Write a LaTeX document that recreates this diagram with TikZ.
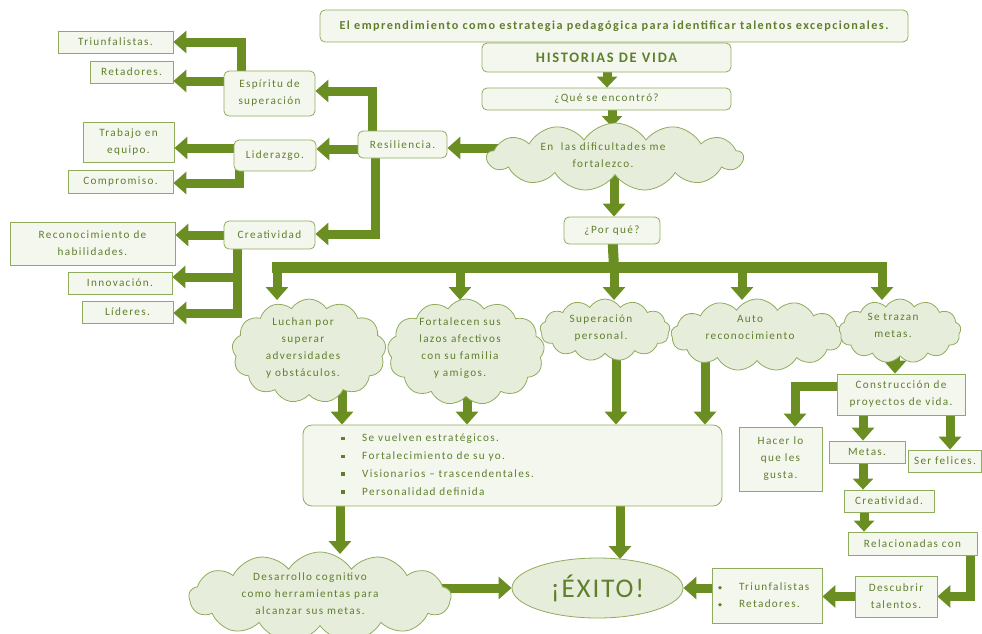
\documentclass[tikz,border=0pt]{standalone}
\usepackage{fontspec}
\setmainfont{Carlito}[LetterSpace=12]
\usetikzlibrary{arrows.meta,shapes.symbols,shapes.geometric,backgrounds,calc}
\definecolor{dg}{RGB}{107,142,35}
\definecolor{bd}{RGB}{143,172,92}
\definecolor{bf}{RGB}{244,247,238}
\definecolor{cf}{RGB}{231,237,219}
\definecolor{tx}{RGB}{95,127,45}
\newcommand{\sqb}{\makebox[21pt][l]{\raisebox{1.5pt}{\rule{3.6pt}{3.6pt}}}}
\newcommand{\rdb}{\makebox[21pt][l]{\raisebox{1.2pt}{\tikz\fill[tx] (0,0) circle (1.9pt);}}}
\begin{document}
\begin{tikzpicture}[x=1pt,y=-1pt,
  every node/.style={text=tx, font=\fontsize{11.2}{17}\selectfont},
  box/.style={draw=bd, fill=bf, line width=0.8pt, inner sep=1pt, align=center},
  rbox/.style={box, rounded corners=5pt},
  fat/.style={draw=dg, line width=9pt, line join=miter, -{Triangle[width=22pt,length=13pt]}},
  thinfat/.style={fat, -{Triangle[width=20pt,length=11pt]}},
  barline/.style={draw=dg, line width=10pt, line join=miter},
  cl/.style={cloud, cloud puffs=13, cloud puff arc=115, cloud ignores aspect, draw=bd, fill=cf, line width=0.8pt, inner sep=0pt},
  ctext/.style={align=center}]
\useasboundingbox (0,0) rectangle (982,633);

% top column
\node[rbox, minimum width=588pt, minimum height=32pt, font=\fontsize{12.2}{14}\bfseries] (title) at (614,26) {El emprendimiento como estrategia pedagógica para identificar talentos excepcionales.};
\node[rbox, minimum width=249pt, minimum height=29pt, font=\fontsize{14.5}{16}\bfseries] (hist) at (606.5,57.5) {HISTORIAS DE VIDA};
\node[rbox, minimum width=249pt, minimum height=22pt] (que) at (606.5,99) {¿Qué se encontró?};
\node[cl, minimum width=256pt, minimum height=68pt] (c0) at (615,157) {};
\node[ctext] (t0) at (603,155) {En\ \ las dificultades me\\fortalezco.};
\node[rbox, minimum width=96pt, minimum height=27pt] (pq) at (612,230.5) {¿Por qué?};

% left tree
\node[rbox, minimum width=89pt, minimum height=27pt] (res) at (402.5,144.5) {Resiliencia.};
\node[rbox, minimum width=91pt, minimum height=45pt] (esp) at (269.5,93.5) {Espíritu de\\superación};
\node[rbox, minimum width=82pt, minimum height=31pt] (lid) at (275,155.5) {Liderazgo.};
\node[rbox, minimum width=91pt, minimum height=28pt] (crea) at (269.5,235) {Creatividad};
\node[box, minimum width=115pt, minimum height=22pt] (tri) at (115.5,42) {Triunfalistas.};
\node[box, minimum width=83pt, minimum height=22pt] (ret) at (131.5,72) {Retadores.};
\node[box, minimum width=91pt, minimum height=40pt] (trab) at (128.5,142) {Trabajo en\\equipo.};
\node[box, minimum width=105pt, minimum height=23pt] (comp) at (120.5,181.5) {Compromiso.};
\node[box, minimum width=165pt, minimum height=43pt] (reco) at (92.5,243.5) {Reconocimiento de\\habilidades.};
\node[box, minimum width=104pt, minimum height=22pt] (inno) at (120,283) {Innovación.};
\node[box, minimum width=91pt, minimum height=22pt] (lide) at (127.5,312) {Líderes.};

% clouds row
\node[cl, minimum width=154pt, minimum height=104pt] (c1) at (309,351) {};
\node[ctext] (t1) at (303,348) {Luchan por\\superar\\adversidades\\y obstáculos.};
\node[cl, minimum width=157pt, minimum height=106pt] (c2) at (466,352) {};
\node[ctext] (t2) at (460,348) {Fortalecen sus\\lazos afectivos\\con su familia\\y amigos.};
\node[cl, minimum width=130pt, minimum height=62pt] (c3) at (605,330) {};
\node[ctext] (t3) at (601,328) {Superación\\personal.};
\node[cl, minimum width=172pt, minimum height=72pt] (c4) at (757,335) {};
\node[ctext] (t4) at (750,327) {Auto\\reconocimiento};
\node[cl, minimum width=122pt, minimum height=64pt] (c5) at (900,331) {};
\node[ctext] (t5) at (893,325) {Se trazan\\metas.};

% big box
\node[rbox, minimum width=419pt, minimum height=81pt, rounded corners=9pt] (big) at (512.5,465.5) {};
\node[anchor=north west, align=left, inner sep=0pt, font=\fontsize{11.2}{17.7}\selectfont] (blist) at (341,434) {\sqb Se vuelven estratégicos.\\\sqb Fortalecimiento de su yo.\\\sqb Visionarios -- trascendentales.\\\sqb Personalidad definida};

% right tree
\node[box, minimum width=128pt, minimum height=41pt] (cons) at (901,394.5) {Construcción de\\proyectos de vida.};
\node[box, minimum width=83pt, minimum height=64pt] (hacer) at (780.5,459) {Hacer lo\\que les\\gusta.};
\node[box, minimum width=76pt, minimum height=22pt] (metas) at (867,452) {Metas.};
\node[box, minimum width=73pt, minimum height=22pt] (ser) at (945,461) {Ser felices.};
\node[box, minimum width=90pt, minimum height=22pt] (crea2) at (889,501) {Creatividad.};
\node[box, minimum width=129pt, minimum height=23pt] (rel) at (912.5,543.5) {Relacionadas con};
\node[box, minimum width=82pt, minimum height=41pt] (desc) at (896,596.5) {Descubrir\\talentos.};
\node[box, minimum width=110pt, minimum height=55pt, align=left, text width=98pt] (tlist) at (767,595.5) {\rdb Triunfalistas\\\rdb Retadores.};

% bottom
\node[ellipse, draw=bd, fill=cf, line width=0.8pt, minimum width=171pt, minimum height=60pt, font=\fontsize{27}{29}\selectfont\addfontfeatures{LetterSpace=7}] (exito) at (597.5,588) {¡ÉXITO!};
\node[cl, minimum width=262pt, minimum height=90pt] (c6) at (320,597) {};
\node[ctext] (t6) at (310,594) {Desarrollo cognitivo\\como herramientas para\\alcanzar sus metas.};

\coordinate (b0) at (614,267);
\coordinate (bl) at (272,267);
\coordinate (br) at (887,267);
\coordinate (b1) at (277,267);
\coordinate (b2) at (460,267);
\coordinate (b3) at (614,267);
\coordinate (b4) at (742,267);
\coordinate (b5) at (882,267);

\begin{scope}[on background layer]
  \draw[thinfat] (hist.center -| 607,0) -- (que.north -| 607,0);
  \draw[thinfat] (que.center -| 612,0) -- (612,127);
  \draw[fat] (c0.center -| 614,0) -- (pq.north -| 614,0);
  \draw[barline] (pq.center) -- (b0);
  \draw[barline, line width=11pt] (bl) -- (br);
  \draw[fat] (b1) -- (b1 |- 0,300);
  \draw[fat] (b2) -- (b2 |- 0,300);
  \draw[fat] (b3) -- (b3 |- 0,300);
  \draw[fat] (b4) -- (b4 |- 0,300);
  \draw[fat] (b5) -- (b5 |- 0,300);
  \draw[fat] (c1.center -| 342,0) -- (big.north -| 342,0);
  \draw[fat] (c2.center -| 467,0) -- (big.north -| 467,0);
  \draw[fat] (c3.center -| 616,0) -- (big.north -| 616,0);
  \draw[fat] (c4.center -| 705,0) -- (big.north -| 705,0);
  \draw[fat] (c5.center -| 895,0) -- (cons.north -| 895,0);
  \draw[fat] (big.center -| 340,0) -- (340,554);
  \draw[fat] (big.center -| 620,0) -- (620,559);
  \draw[fat] (c6.center |- exito.west) -- (exito.west);
  \draw[fat] (tlist.center |- exito.east) -- (exito.east);
  \draw[fat] (desc.center) -- (tlist.east |- desc.center);
  \draw[fat] (rel.center -| 970,0) |- (desc.east);
  \draw[thinfat] (crea2.center -| 864,0) -- (rel.north -| 864,0);
  \draw[thinfat] (metas.center -| 863,0) -- (crea2.north -| 863,0);
  \draw[fat] (cons.center -| 863,0) -- (metas.north -| 863,0);
  \draw[fat] (cons.center -| 950,0) -- (ser.north -| 950,0);
  \draw[fat] (cons.center |- 0,386) -| (795,0 |- hacer.north);
  % left
  \draw[fat] (c0.center |- 0,148) -- (res.east |- 0,148);
  \draw[fat] (res.center -| 372,0) |- (esp.east |- 0,91);
  \draw[fat] (res.center |- 0,149) -- (lid.east |- 0,149);
  \draw[fat] (res.center -| 375,0) |- (crea.east |- 0,234);
  \draw[fat] (esp.center -| 241,0) |- (tri.east);
  \draw[fat] (esp.center |- 0,81) -- (ret.east |- 0,81);
  \draw[fat] (lid.center |- 0,148) -- (trab.east |- 0,148);
  \draw[fat] (lid.center -| 239,0) |- (comp.east |- 0,183);
  \draw[fat] (crea.center) -- (reco.east |- crea.center);
  \draw[fat] (crea.center -| 237,0) |- (inno.east |- 0,277);
  \draw[fat] (crea.center -| 237,0) |- (lide.east |- 0,313);
\end{scope}
\end{tikzpicture}
\end{document}
